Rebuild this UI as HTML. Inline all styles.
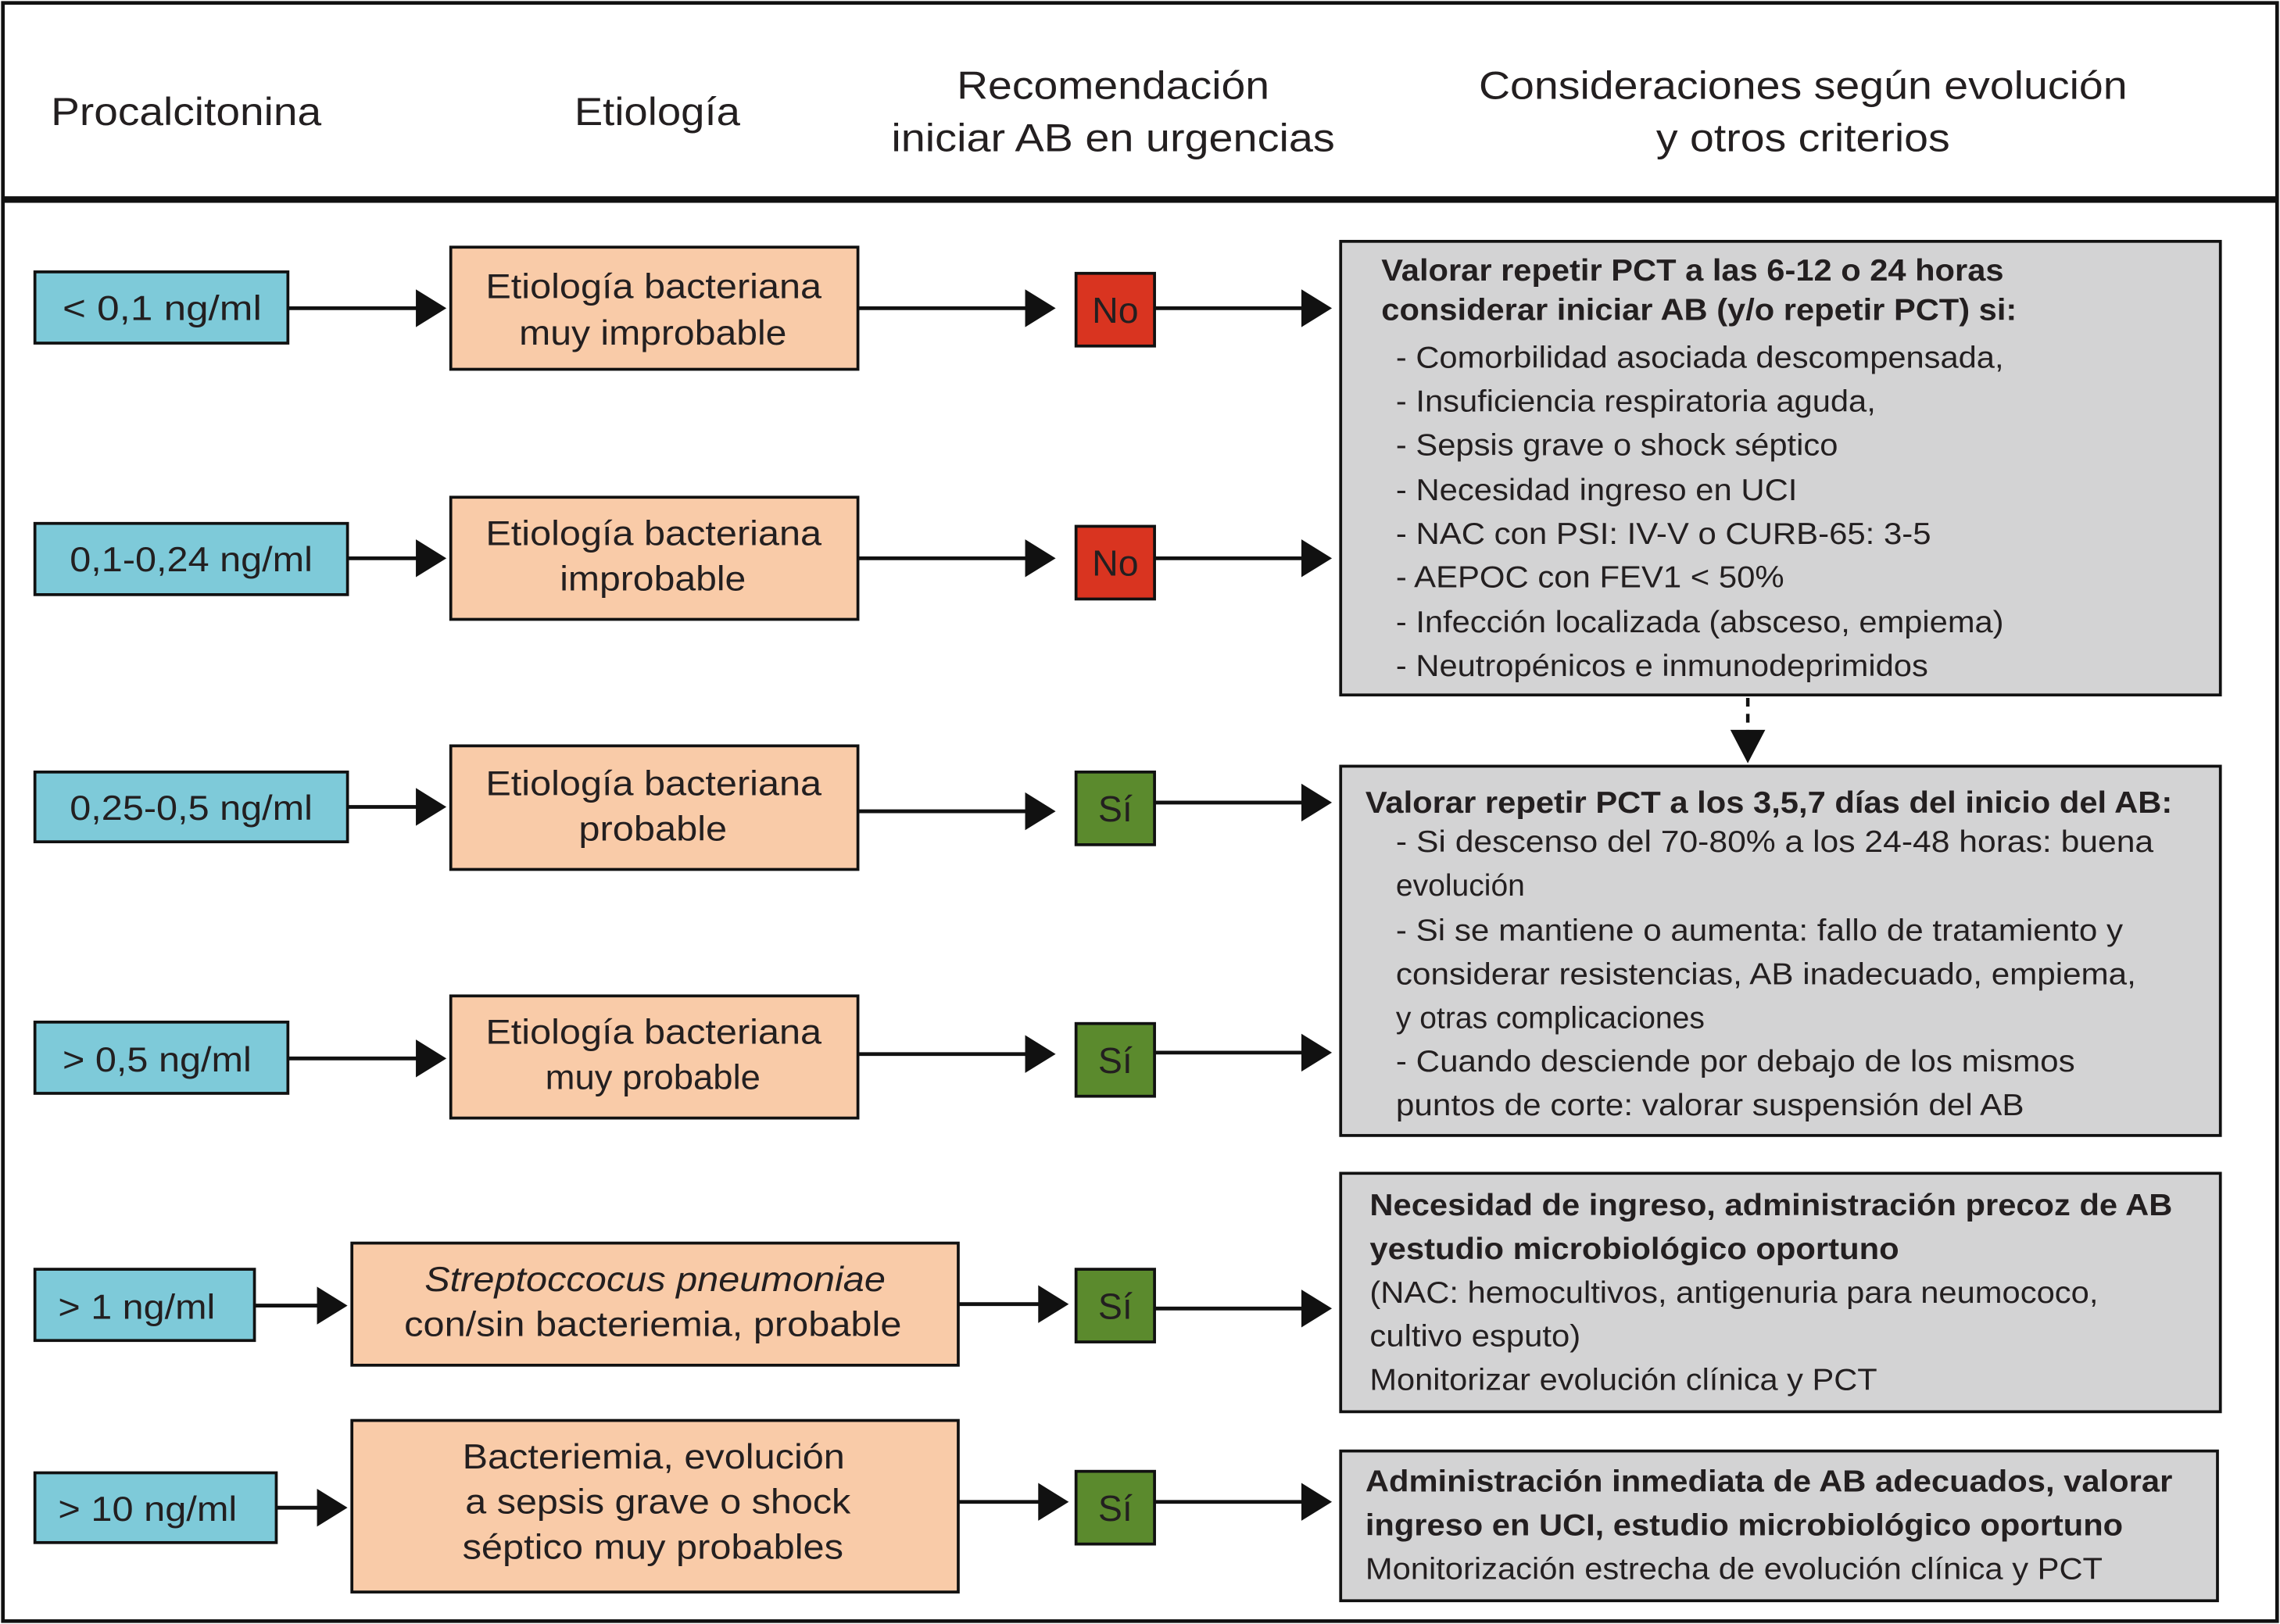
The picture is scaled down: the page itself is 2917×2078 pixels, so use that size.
<!DOCTYPE html>
<html><head><meta charset="utf-8"><style>
html,body{margin:0;padding:0;background:#fff;}
svg{display:block;}
text{font-family:"Liberation Sans",sans-serif;fill:#231f20;}
.b{font-weight:bold;}
</style></head><body>
<svg width="2917" height="2078" viewBox="0 0 1568 1117" preserveAspectRatio="none" xmlns="http://www.w3.org/2000/svg">
<rect x="0" y="0" width="1568" height="1117" fill="#fff"/>
<rect x="2" y="2" width="1564" height="1113" fill="none" stroke="#111" stroke-width="2.5"/>
<rect x="2" y="135" width="1564" height="4.5" fill="#111"/>

<g font-size="27">
<text x="35" y="86" textLength="186" lengthAdjust="spacingAndGlyphs">Procalcitonina</text>
<text x="395" y="86" textLength="114" lengthAdjust="spacingAndGlyphs">Etiología</text>
<text x="658" y="68" textLength="215" lengthAdjust="spacingAndGlyphs">Recomendación</text>
<text x="613" y="104" textLength="305" lengthAdjust="spacingAndGlyphs">iniciar AB en urgencias</text>
<text x="1017" y="68" textLength="446" lengthAdjust="spacingAndGlyphs">Consideraciones según evolución</text>
<text x="1139" y="104" textLength="202" lengthAdjust="spacingAndGlyphs">y otros criterios</text>
</g>

<g stroke="#111" stroke-width="2">
<rect x="24" y="187" width="174" height="49" fill="#7ecad9"/>
<rect x="24" y="360" width="215" height="49" fill="#7ecad9"/>
<rect x="24" y="531" width="215" height="48" fill="#7ecad9"/>
<rect x="24" y="703" width="174" height="49" fill="#7ecad9"/>
<rect x="24" y="873" width="151" height="49" fill="#7ecad9"/>
<rect x="24" y="1013" width="166" height="48" fill="#7ecad9"/>

<rect x="310" y="170" width="280" height="84" fill="#f9cba8"/>
<rect x="310" y="342" width="280" height="84" fill="#f9cba8"/>
<rect x="310" y="513" width="280" height="85" fill="#f9cba8"/>
<rect x="310" y="685" width="280" height="84" fill="#f9cba8"/>
<rect x="242" y="855" width="417" height="84" fill="#f9cba8"/>
<rect x="242" y="977" width="417" height="118" fill="#f9cba8"/>

<rect x="740" y="188" width="54" height="50" fill="#d93420"/>
<rect x="740" y="362" width="54" height="50" fill="#d93420"/>
<rect x="740" y="531" width="54" height="50" fill="#5b8a2d"/>
<rect x="740" y="704" width="54" height="50" fill="#5b8a2d"/>
<rect x="740" y="873" width="54" height="50" fill="#5b8a2d"/>
<rect x="740" y="1012" width="54" height="50" fill="#5b8a2d"/>

<rect x="922" y="166" width="605" height="312" fill="#d3d3d4"/>
<rect x="922" y="527" width="605" height="254" fill="#d3d3d4"/>
<rect x="922" y="807" width="605" height="164" fill="#d3d3d4"/>
<rect x="922" y="998" width="603" height="103" fill="#d3d3d4"/>
</g>

<g stroke="#111" stroke-width="2.6">
<line x1="198" y1="212" x2="290" y2="212"/>
<line x1="239" y1="384" x2="290" y2="384"/>
<line x1="239" y1="555" x2="290" y2="555"/>
<line x1="198" y1="728" x2="290" y2="728"/>
<line x1="175" y1="898" x2="222" y2="898"/>
<line x1="190" y1="1037" x2="222" y2="1037"/>
<line x1="590" y1="212" x2="708" y2="212"/>
<line x1="590" y1="384" x2="708" y2="384"/>
<line x1="590" y1="558" x2="708" y2="558"/>
<line x1="590" y1="725" x2="708" y2="725"/>
<line x1="659" y1="897" x2="718" y2="897"/>
<line x1="659" y1="1033" x2="718" y2="1033"/>
<line x1="794" y1="212" x2="898" y2="212"/>
<line x1="794" y1="384" x2="898" y2="384"/>
<line x1="794" y1="552" x2="898" y2="552"/>
<line x1="794" y1="724" x2="898" y2="724"/>
<line x1="794" y1="900" x2="898" y2="900"/>
<line x1="794" y1="1033" x2="898" y2="1033"/>
</g>
<g fill="#111">
<path d="M286,199 L307,212 L286,225 z"/>
<path d="M286,371 L307,384 L286,397 z"/>
<path d="M286,542 L307,555 L286,568 z"/>
<path d="M286,715 L307,728 L286,741 z"/>
<path d="M218,885 L239,898 L218,911 z"/>
<path d="M218,1024 L239,1037 L218,1050 z"/>
<path d="M705,199 L726,212 L705,225 z"/>
<path d="M705,371 L726,384 L705,397 z"/>
<path d="M705,545 L726,558 L705,571 z"/>
<path d="M705,712 L726,725 L705,738 z"/>
<path d="M714,884 L735,897 L714,910 z"/>
<path d="M714,1020 L735,1033 L714,1046 z"/>
<path d="M895,199 L916,212 L895,225 z"/>
<path d="M895,371 L916,384 L895,397 z"/>
<path d="M895,539 L916,552 L895,565 z"/>
<path d="M895,711 L916,724 L895,737 z"/>
<path d="M895,887 L916,900 L895,913 z"/>
<path d="M895,1020 L916,1033 L895,1046 z"/>
<path d="M1190,502 L1214,502 L1202,525 z"/>
</g>
<line x1="1202" y1="480" x2="1202" y2="503" stroke="#111" stroke-width="2.4" stroke-dasharray="6,5"/>

<g font-size="24">
<text x="43" y="220" textLength="137" lengthAdjust="spacingAndGlyphs">&lt; 0,1 ng/ml</text>
<text x="48" y="393" textLength="167" lengthAdjust="spacingAndGlyphs">0,1-0,24 ng/ml</text>
<text x="48" y="564" textLength="167" lengthAdjust="spacingAndGlyphs">0,25-0,5 ng/ml</text>
<text x="43" y="737" textLength="130" lengthAdjust="spacingAndGlyphs">&gt; 0,5 ng/ml</text>
<text x="40" y="907" textLength="108" lengthAdjust="spacingAndGlyphs">&gt; 1 ng/ml</text>
<text x="40" y="1046" textLength="123" lengthAdjust="spacingAndGlyphs">&gt; 10 ng/ml</text>

<text x="334" y="205" textLength="231" lengthAdjust="spacingAndGlyphs">Etiología bacteriana</text>
<text x="357" y="237" textLength="184" lengthAdjust="spacingAndGlyphs">muy improbable</text>
<text x="334" y="375" textLength="231" lengthAdjust="spacingAndGlyphs">Etiología bacteriana</text>
<text x="385" y="406" textLength="128" lengthAdjust="spacingAndGlyphs">improbable</text>
<text x="334" y="547" textLength="231" lengthAdjust="spacingAndGlyphs">Etiología bacteriana</text>
<text x="398" y="578" textLength="102" lengthAdjust="spacingAndGlyphs">probable</text>
<text x="334" y="718" textLength="231" lengthAdjust="spacingAndGlyphs">Etiología bacteriana</text>
<text x="375" y="749" textLength="148" lengthAdjust="spacingAndGlyphs">muy probable</text>
<text x="292" y="888" font-style="italic" textLength="317" lengthAdjust="spacingAndGlyphs">Streptoccocus pneumoniae</text>
<text x="278" y="919" textLength="342" lengthAdjust="spacingAndGlyphs">con/sin bacteriemia, probable</text>
<text x="318" y="1010" textLength="263" lengthAdjust="spacingAndGlyphs">Bacteriemia, evolución</text>
<text x="320" y="1041" textLength="265" lengthAdjust="spacingAndGlyphs">a sepsis grave o shock</text>
<text x="318" y="1072" textLength="262" lengthAdjust="spacingAndGlyphs">séptico muy probables</text>
</g>
<g font-size="25">
<text x="767" y="222" text-anchor="middle">No</text>
<text x="767" y="396" text-anchor="middle">No</text>
<text x="767" y="565" text-anchor="middle">Sí</text>
<text x="767" y="738" text-anchor="middle">Sí</text>
<text x="767" y="907" text-anchor="middle">Sí</text>
<text x="767" y="1046" text-anchor="middle">Sí</text>
</g>

<g font-size="21">
<text class="b" x="950" y="193" textLength="428" lengthAdjust="spacingAndGlyphs">Valorar repetir PCT a las 6-12 o 24 horas</text>
<text class="b" x="950" y="220" textLength="437" lengthAdjust="spacingAndGlyphs">considerar iniciar AB (y/o repetir PCT) si:</text>
<text x="960" y="253" textLength="418" lengthAdjust="spacingAndGlyphs">- Comorbilidad asociada descompensada,</text>
<text x="960" y="283" textLength="330" lengthAdjust="spacingAndGlyphs">- Insuficiencia respiratoria aguda,</text>
<text x="960" y="313" textLength="304" lengthAdjust="spacingAndGlyphs">- Sepsis grave o shock séptico</text>
<text x="960" y="344" textLength="276" lengthAdjust="spacingAndGlyphs">- Necesidad ingreso en UCI</text>
<text x="960" y="374" textLength="368" lengthAdjust="spacingAndGlyphs">- NAC con PSI: IV-V o CURB-65: 3-5</text>
<text x="960" y="404" textLength="267" lengthAdjust="spacingAndGlyphs">- AEPOC con FEV1 &lt; 50%</text>
<text x="960" y="435" textLength="418" lengthAdjust="spacingAndGlyphs">- Infección localizada (absceso, empiema)</text>
<text x="960" y="465" textLength="366" lengthAdjust="spacingAndGlyphs">- Neutropénicos e inmunodeprimidos</text>

<text class="b" x="939" y="559" textLength="555" lengthAdjust="spacingAndGlyphs">Valorar repetir PCT a los 3,5,7 días del inicio del AB:</text>
<text x="960" y="586" textLength="521" lengthAdjust="spacingAndGlyphs">- Si descenso del 70-80%  a los 24-48 horas: buena</text>
<text x="960" y="616">evolución</text>
<text x="960" y="647" textLength="500" lengthAdjust="spacingAndGlyphs">- Si se mantiene o aumenta: fallo de tratamiento y</text>
<text x="960" y="677" textLength="509" lengthAdjust="spacingAndGlyphs">considerar resistencias, AB inadecuado, empiema,</text>
<text x="960" y="707">y otras complicaciones</text>
<text x="960" y="737" textLength="467" lengthAdjust="spacingAndGlyphs">- Cuando desciende por debajo de los mismos</text>
<text x="960" y="767" textLength="432" lengthAdjust="spacingAndGlyphs">puntos de corte: valorar suspensión del AB</text>

<text class="b" x="942" y="836" textLength="552" lengthAdjust="spacingAndGlyphs">Necesidad de ingreso, administración precoz de AB</text>
<text class="b" x="942" y="866" textLength="364" lengthAdjust="spacingAndGlyphs">yestudio microbiológico oportuno</text>
<text x="942" y="896" textLength="501" lengthAdjust="spacingAndGlyphs">(NAC: hemocultivos, antigenuria para neumococo,</text>
<text x="942" y="926" textLength="145" lengthAdjust="spacingAndGlyphs">cultivo esputo)</text>
<text x="942" y="956" textLength="349" lengthAdjust="spacingAndGlyphs">Monitorizar evolución clínica y PCT</text>

<text class="b" x="939" y="1026" textLength="555" lengthAdjust="spacingAndGlyphs">Administración inmediata de AB adecuados, valorar</text>
<text class="b" x="939" y="1056" textLength="521" lengthAdjust="spacingAndGlyphs">ingreso en UCI, estudio microbiológico oportuno</text>
<text x="939" y="1086" textLength="507" lengthAdjust="spacingAndGlyphs">Monitorización estrecha de evolución clínica y PCT</text>
</g>
</svg>
</body></html>
